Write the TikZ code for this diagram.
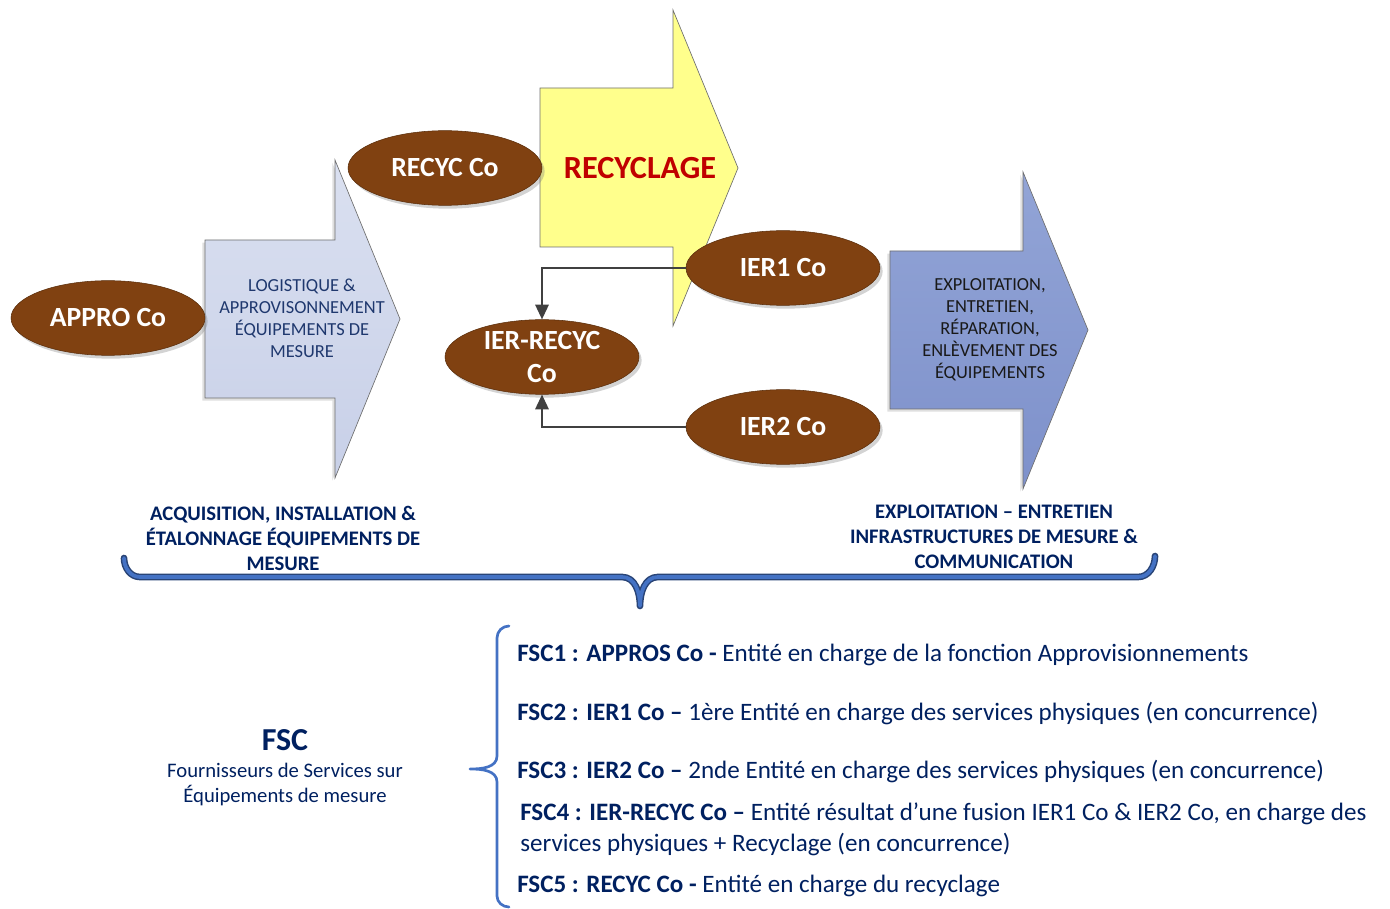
\documentclass[tikz,border=0pt]{standalone}
\usepackage{fontspec}
\setmainfont{Carlito}
\usetikzlibrary{positioning, arrows.meta, shapes.geometric, shadows}

\definecolor{brownco}{RGB}{128,65,17}
\definecolor{navytxt}{RGB}{0,32,96}
\definecolor{bluetxt}{RGB}{31,56,110}
\definecolor{redtxt}{RGB}{192,0,0}
\definecolor{bracecol}{RGB}{68,114,196}
\definecolor{edgegray}{RGB}{110,110,110}

\begin{document}
\begin{tikzpicture}[x=0.75pt, y=-0.75pt,
  co/.style={ellipse, fill=brownco, draw=brownco!70!black, text=white, align=center,
    font=\bfseries\fontsize{20.8}{25}\selectfont, minimum width=145.5pt, minimum height=56pt, inner sep=0pt,
    drop shadow={shadow xshift=2pt, shadow yshift=-2.5pt, opacity=0.35}},
  bigarrow/.style={draw=edgegray, line width=0.5pt},
  boxtext/.style={align=center, font=\fontsize{13.8}{16.5}\selectfont},
  phase/.style={align=center, text=navytxt, font=\bfseries\fontsize{15.5}{18.75}\selectfont},
  item/.style={anchor=west, align=left, inner sep=0pt, text=navytxt, font=\fontsize{18.8}{23.3}\selectfont},
  conn/.style={draw=black!75, line width=1.4pt, -{Triangle[length=11pt,width=10pt]}},
  brace/.style={draw=bracecol, line cap=round, line join=round}]
  \useasboundingbox (0,0) rectangle (1390,909);

  % big arrows
  \path[bigarrow, top color=yellow!45, bottom color=yellow!45]
    (540,88) -- (673,88) -- (673,10) -- (738,168) -- (673,326) -- (673,247) -- (540,247) -- cycle;
  \path[bigarrow, top color={rgb,255:red,218;green,224;blue,240}, bottom color={rgb,255:red,200;green,208;blue,232},
    drop shadow={shadow xshift=-2pt, shadow yshift=-2pt, opacity=0.25}]
    (205,240) -- (335,240) -- (335,160) -- (400,319) -- (335,478) -- (335,398) -- (205,398) -- cycle;
  \path[bigarrow, top color={rgb,255:red,146;green,164;blue,214}, bottom color={rgb,255:red,126;green,145;blue,203},
    drop shadow={shadow xshift=-2pt, shadow yshift=-2pt, opacity=0.25}]
    (890,251) -- (1023,251) -- (1023,172) -- (1088,330) -- (1023,489) -- (1023,409) -- (890,409) -- cycle;

  \node[boxtext, text=bluetxt] (logi) at (302,318) {LOGISTIQUE \&\\APPROVISONNEMENT\\ÉQUIPEMENTS DE\\MESURE};
  \node[font=\bfseries\fontsize{24.2}{28}\selectfont, text=redtxt] (recyclage) at (640,168) {RECYCLAGE};
  \node[boxtext, text=black!90] (exploit) at (990,330) {EXPLOITATION,\\ENTRETIEN,\\RÉPARATION,\\ENLÈVEMENT DES\\ÉQUIPEMENTS};

  % entities
  \node[co] (appro) at (108,318) {APPRO Co};
  \node[co] (recyc) at (445,168) {RECYC Co};
  \node[co] (ier1) at (783,268) {IER1 Co};
  \node[co] (ier2) at (783,427) {IER2 Co};
  \node[co] (ierrecyc) at (542,357) {IER-RECYC\\Co};

  \draw[conn] (ier1.west) -| (ierrecyc.north);
  \draw[conn] (ier2.west) -| (ierrecyc.south);

  % phases
  \node[phase] (acq) at (283,538) {ACQUISITION, INSTALLATION \&\\ÉTALONNAGE ÉQUIPEMENTS DE\\MESURE};
  \node[phase] (expl) at (994,537) {EXPLOITATION – ENTRETIEN\\INFRASTRUCTURES DE MESURE \&\\COMMUNICATION};

  \draw[brace, draw=bracecol!60!black, line width=5pt]
    (124,558) to[out=-90,in=180] (140,577) -- (622,577) to[out=0,in=90] (640,606)
    to[out=90,in=180] (658,577) -- (1138,577) to[out=0,in=-90] (1155,556);
  \draw[brace, line width=2.8pt]
    (124,558) to[out=-90,in=180] (140,577) -- (622,577) to[out=0,in=90] (640,606)
    to[out=90,in=180] (658,577) -- (1138,577) to[out=0,in=-90] (1155,556);

  % legend
  \node[font=\bfseries\fontsize{24}{28}\selectfont, text=navytxt] (fsc) at (285,740) {FSC};
  \node[align=center, text=navytxt, font=\fontsize{15.5}{18.75}\selectfont] (fscdef) at (285,784)
    {Fournisseurs de Services sur\\Équipements de mesure};

  \draw[brace, line width=2pt]
    (509,626) to[out=180,in=90] (497,638) -- (497,756) to[out=-90,in=0] (470,769)
    to[out=0,in=90] (497,782) -- (497,896) to[out=-90,in=180] (509,907);

  \node[item] (fsc1) at (517,655) {\textbf{FSC1 : APPROS Co -} Entité en charge de la fonction Approvisionnements};
  \node[item] (fsc2) at (517,713) {\textbf{FSC2 : IER1 Co –} 1ère Entité en charge des services physiques (en concurrence)};
  \node[item] (fsc3) at (517,771) {\textbf{FSC3 : IER2 Co –} 2nde Entité en charge des services physiques (en concurrence)};
  \node[item] (fsc4) at (520,829) {\textbf{FSC4 : IER-RECYC Co –} Entité résultat d’une fusion IER1 Co \& IER2 Co, en charge des\\services physiques + Recyclage (en concurrence)};
  \node[item] (fsc5) at (517,886) {\textbf{FSC5 : RECYC Co -} Entité en charge du recyclage};
\end{tikzpicture}
\end{document}
